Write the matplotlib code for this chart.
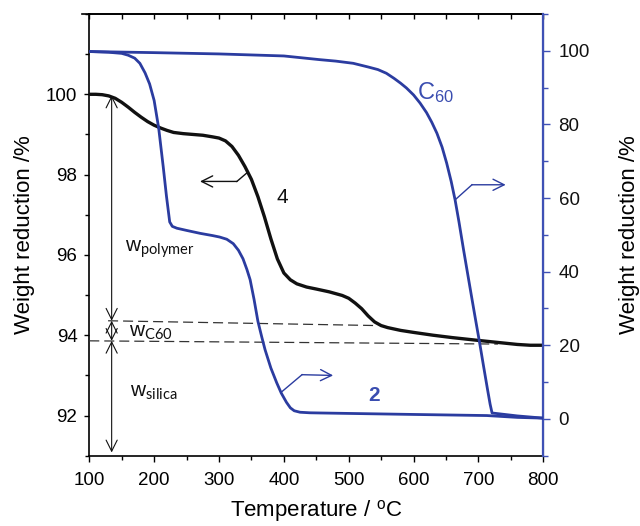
import matplotlib
matplotlib.use("Agg")
import matplotlib.pyplot as plt
from matplotlib.ticker import MultipleLocator, FixedLocator
from matplotlib.lines import Line2D

plt.rcParams['font.family'] = ['Liberation Sans', 'DejaVu Sans']
plt.rcParams['mathtext.fontset'] = 'custom'
plt.rcParams['mathtext.sf'] = 'Liberation Sans'
plt.rcParams['mathtext.rm'] = 'Lato'
plt.rcParams['mathtext.it'] = 'Lato:italic'

# ---- data ----
# sample 4 (left axis)
t4 = [100, 110, 120, 130, 140, 150, 160, 170, 180, 190, 200, 210, 220, 230, 245, 260,
      275, 290, 300, 310, 320, 330, 340, 350, 360, 370, 380, 390, 400, 410, 420, 435,
      450, 470, 490, 500, 510, 520, 530, 540, 550, 560, 580, 600, 630, 660, 700, 730,
      760, 780, 800]
w4 = [100.0, 100.0, 99.99, 99.96, 99.9, 99.8, 99.68, 99.55, 99.43, 99.32, 99.23, 99.16,
      99.1, 99.05, 99.02, 99.0, 98.98, 98.94, 98.91, 98.84, 98.7, 98.48, 98.2, 97.88,
      97.45, 96.95, 96.4, 95.9, 95.55, 95.38, 95.28, 95.2, 95.15, 95.08, 94.99, 94.92,
      94.8, 94.66, 94.48, 94.33, 94.24, 94.19, 94.12, 94.07, 94.0, 93.94, 93.87, 93.82,
      93.77, 93.75, 93.75]
# sample 2 (right axis)
t2 = [100, 130, 150, 160, 170, 178, 186, 193, 200, 207, 214, 219, 224, 228, 235, 250,
      271, 290, 301, 312, 322, 330, 337, 343, 348, 354, 360, 366, 371, 380, 389, 396,
      404, 410, 416, 425, 440, 456, 600, 713, 760, 800]
w2 = [99.8, 99.6, 99.3, 98.8, 98.0, 96.6, 94.0, 91.0, 86.5, 79.0, 68.5, 60.5, 53.5,
      52.3, 51.8, 51.2, 50.4, 49.8, 49.4, 48.8, 47.6, 45.8, 43.5, 40.6, 37.8, 32.5,
      26.5, 22.2, 18.8, 13.8, 9.8, 7.0, 4.5, 3.0, 2.2, 1.8, 1.65, 1.6, 1.2, 0.9, 0.4,
      0.2]
# C60 (right axis)
tc = [100, 200, 300, 400, 455, 480, 507, 530, 545, 558, 570, 580, 589, 600, 610, 620,
      628, 636, 644, 651, 658, 664, 670, 677, 683, 690, 696, 702, 708, 714, 718, 721,
      760, 800]
wc = [99.8, 99.5, 99.15, 98.6, 97.6, 97.2, 96.6, 95.6, 94.9, 93.9, 92.5, 91.2, 89.9,
      88.0, 85.8, 83.2, 80.6, 77.6, 73.8, 69.5, 64.5, 59.5, 53.5, 46.0, 39.8, 32.6,
      26.5, 20.5, 14.2, 8.0, 4.0, 1.6, 0.8, 0.2]

# composition markers (left axis)
t_marker = 134.5
w_top = 99.97
w_upper = 94.36
w_lower = 93.86
w_bottom = 91.08
upper_dash_t = [129, 545]
upper_dash_w = [94.36, 94.24]
lower_dash_t = [100, 730]
lower_dash_w = [93.86, 93.78]

xticks = [100, 200, 300, 400, 500, 600, 700, 800]
lticks = [92, 94, 96, 98, 100]
rticks = [0, 20, 40, 60, 80, 100]

BLUE = '#2b3ca0'
SPINE_BLUE = '#3f51b5'
TXT_BLUE = '#3a4db0'

fig = plt.figure(figsize=(6.4, 5.26), dpi=100)
ax = fig.add_axes([0.1395, 0.1337, 0.7094, 0.8397])
ax2 = ax.twinx()

ax.set_xlim(100, 800)
ax.set_ylim(91, 102)
ax2.set_ylim(-10, 110)

# curves
ax.plot(t4, w4, color='#111111', lw=2.4, zorder=5, solid_joinstyle='round')
ax2.plot(t2, w2, color=BLUE, lw=2.0, zorder=4, solid_joinstyle='round')
ax2.plot(tc, wc, color=BLUE, lw=2.0, zorder=4, solid_joinstyle='round')

# dashed reference lines
ax.plot(upper_dash_t, upper_dash_w, color='#333333', lw=0.9, dashes=(8, 4), zorder=3)
ax.plot(lower_dash_t, lower_dash_w, color='#333333', lw=0.9, dashes=(8, 4), zorder=3)

# vertical double arrows
astyle = '<->,head_length=0.4,head_width=0.2'
for a, b in [(w_top, w_upper), (w_upper, w_lower), (w_lower, w_bottom)]:
    ax.annotate('', xy=(t_marker, a), xytext=(t_marker, b),
                arrowprops=dict(arrowstyle=astyle, mutation_scale=20, lw=0.8,
                                color='#111111', shrinkA=0, shrinkB=0))

# labels w
ax.text(155, 96.08, r'$\mathsf{w}_{\mathrm{polymer}}$', fontsize=15, color='#111111')
ax.text(161.7, 93.96, r'$\mathsf{w}_{\mathrm{C60}}$', fontsize=15, color='#111111')
ax.text(163, 92.48, r'$\mathsf{w}_{\mathrm{silica}}$', fontsize=15, color='#111111')

# pointer arrows
hstyle = '->,head_length=0.4,head_width=0.2'
ax.plot([345, 327.6], [98.07, 97.83], color='#111111', lw=1.0, zorder=6)
ax.annotate('', xy=(270.7, 97.83), xytext=(327.6, 97.83),
            arrowprops=dict(arrowstyle=hstyle, mutation_scale=20, lw=1.0,
                            color='#111111', shrinkA=0, shrinkB=0))
ax2.plot([664, 690], [59.5, 63.6], color=BLUE, lw=1.0)
ax2.annotate('', xy=(742, 63.6), xytext=(690, 63.6),
             arrowprops=dict(arrowstyle=hstyle, mutation_scale=20, lw=1.0,
                             color=BLUE, shrinkA=0, shrinkB=0))
ax2.plot([397, 428], [7.4, 12.0], color=BLUE, lw=1.0)
ax2.annotate('', xy=(476, 11.8), xytext=(428, 12.0),
             arrowprops=dict(arrowstyle=hstyle, mutation_scale=20, lw=1.0,
                             color=BLUE, shrinkA=0, shrinkB=0))

# curve labels
ax.text(397, 97.43, '4', fontsize=15, color='#111111', ha='center', va='center')
ax2.text(539, 6.4, '2', fontsize=15, color=TXT_BLUE, ha='center', va='center',
         fontweight='bold')
ax2.text(604.8, 86.7, r'$\mathsf{C}_{\mathsf{60}}$', fontsize=17, color=TXT_BLUE,
         ha='left', va='baseline')

# ticks
ax.xaxis.set_major_locator(FixedLocator(xticks))
ax.xaxis.set_minor_locator(MultipleLocator(50))
ax.yaxis.set_major_locator(FixedLocator(lticks))
ax.yaxis.set_minor_locator(MultipleLocator(1))
ax2.yaxis.set_major_locator(FixedLocator(rticks))
ax2.yaxis.set_minor_locator(MultipleLocator(10))

ax.tick_params(axis='x', which='major', direction='out', length=4.5, width=1.0,
               labelsize=13.5, pad=7)
ax.tick_params(axis='x', which='minor', direction='out', length=3, width=1.0)
ax.tick_params(axis='y', which='major', direction='out', length=3.5, width=1.0,
               labelsize=13.5, pad=5)
ax.tick_params(axis='y', which='minor', direction='out', length=3, width=1.0)
ax2.tick_params(axis='y', which='major', direction='out', length=5, width=1.0,
                color=SPINE_BLUE, labelsize=13.5, pad=6, labelcolor='#111111')
ax2.tick_params(axis='y', which='minor', direction='out', length=3.5, width=1.0,
                color=SPINE_BLUE)

top = ax.secondary_xaxis('top')
top.xaxis.set_major_locator(MultipleLocator(50))
top.tick_params(direction='in', length=3.5, width=1.0, labeltop=False)
top.spines['top'].set_linewidth(1.2)

for s in ['left', 'bottom', 'top']:
    ax.spines[s].set_linewidth(1.2)
ax2.spines['right'].set_color(SPINE_BLUE)
ax2.spines['right'].set_linewidth(1.6)
for s in ['left', 'bottom', 'top']:
    ax2.spines[s].set_visible(False)

# top spine extension to the left
fig.add_artist(Line2D([82 / 640, 90 / 640], [1 - 14 / 526, 1 - 14 / 526],
                      color='black', lw=1.2))

ax.set_xlabel(r'Temperature / $^{\mathsf{o}}$C', fontsize=16, labelpad=7)
ax.set_ylabel('Weight reduction /%', fontsize=16, labelpad=8)
ax2.set_ylabel('Weight reduction /%', fontsize=16, labelpad=21)

fig.savefig('out.png', dpi=100)
